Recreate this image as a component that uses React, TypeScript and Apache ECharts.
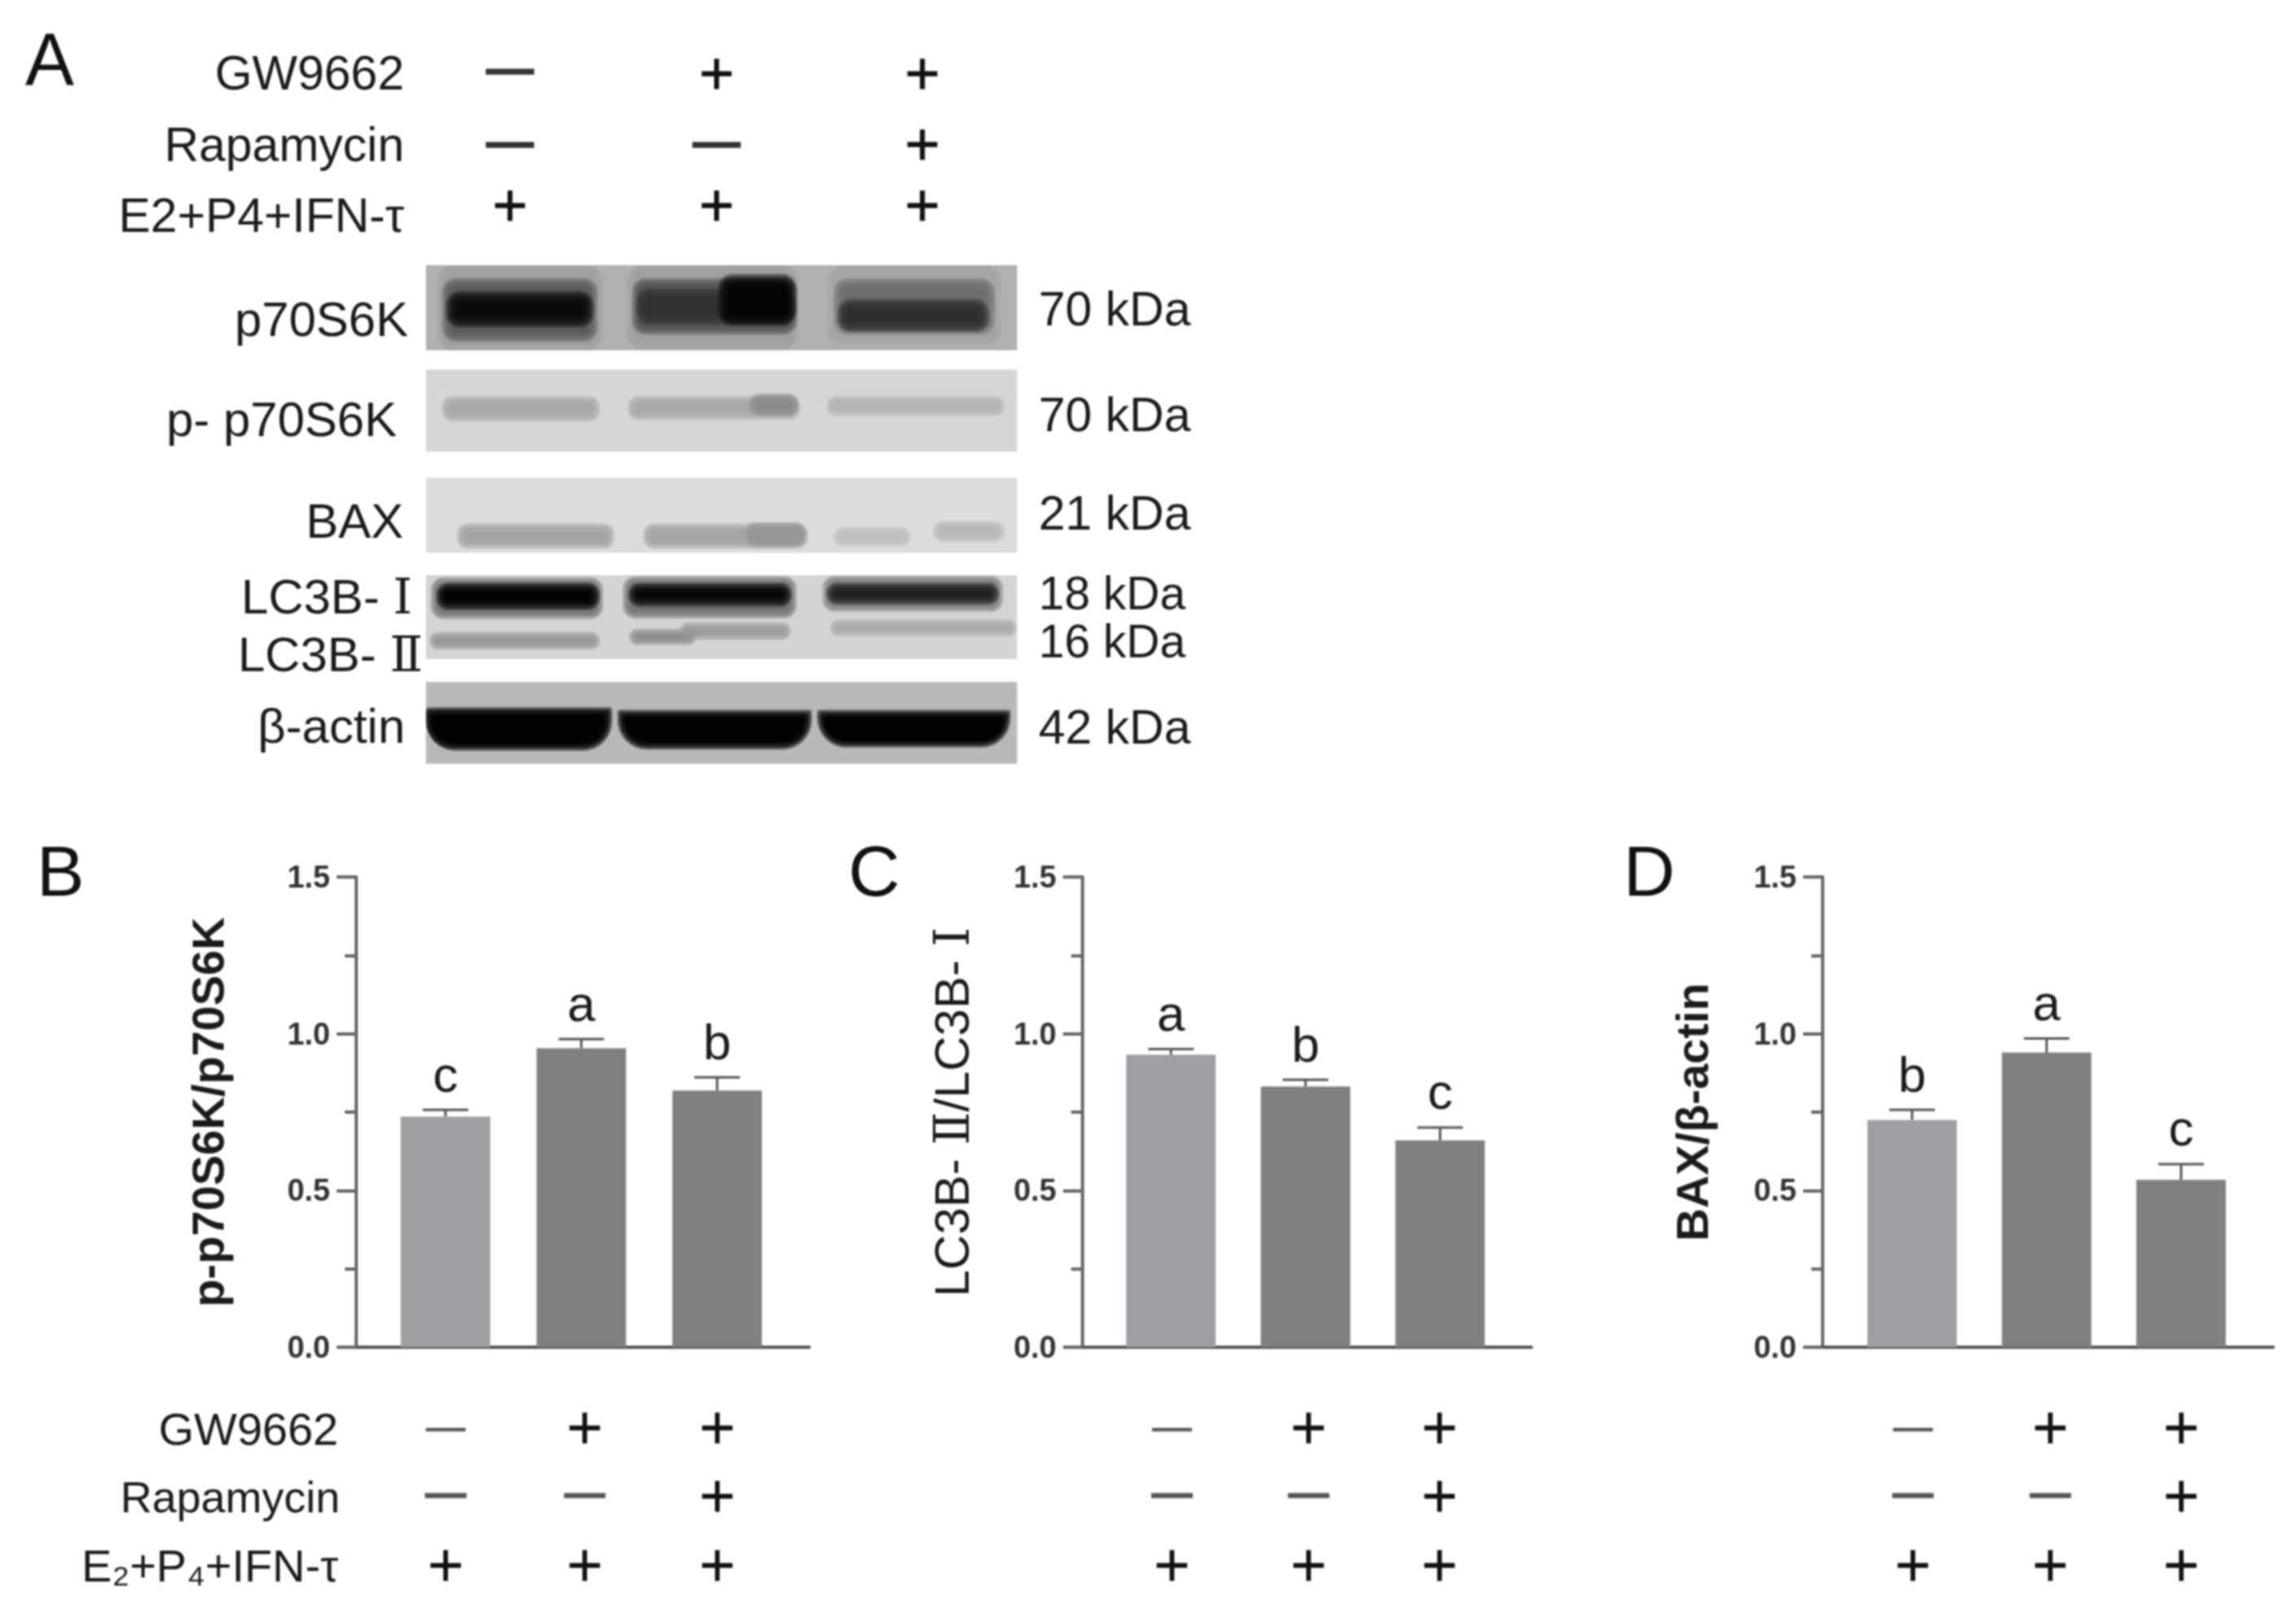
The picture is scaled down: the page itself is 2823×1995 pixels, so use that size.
import React, { useEffect, useRef } from "react";
import * as echarts from "echarts";

const FONT = "'Liberation Sans', Arial, 'DejaVu Sans', sans-serif";
const NUMERAL_FONT = "'Liberation Sans', 'DejaVu Serif', serif";

// ---- chart values ----
const groups = [1, 2, 3];
const pS6kMeans = [0.736, 0.954, 0.819];
const pS6kUpper = [0.757, 0.983, 0.861];
const pS6kLetters = ["c", "a", "b"];
const lc3bMeans = [0.933, 0.832, 0.66];
const lc3bUpper = [0.951, 0.853, 0.701];
const lc3bLetters = ["a", "b", "c"];
const baxMeans = [0.725, 0.94, 0.534];
const baxUpper = [0.757, 0.985, 0.584];
const baxLetters = ["b", "a", "c"];
const treatmentNames = ["GW9662", "Rapamycin", "E₂+P₄+IFN-τ"];
const gw9662Signs = ["-", "+", "+"];
const rapamycinSigns = ["-", "-", "+"];
const hormoneSigns = ["+", "+", "+"];
const blotLabels = ["p70S6K", "p- p70S6K", "BAX", "LC3B- Ⅰ", "LC3B- Ⅱ", "β-actin"];
const weightLabels = ["70 kDa", "70 kDa", "21 kDa", "18 kDa", "16 kDa", "42 kDa"];
const barColors = ["#9f9fa3", "#808080", "#808080"];

// ---- layout ----
const panels = [
  { letter: "B", letterX: 45, title: "p-p70S6K/p70S6K", titleBold: true, titleSize: 56, gap: 155, left: 438, right: 995, min: 0.343, max: 3.678, means: pS6kMeans, upper: pS6kUpper, letters: pS6kLetters, cols: [548, 719, 882] },
  { letter: "C", letterX: 1043, title: "LC3B- Ⅱ/LC3B- Ⅰ", titleBold: false, titleSize: 60, gap: 131, left: 1331, right: 1883, min: 0.343, max: 3.679, means: lc3bMeans, upper: lc3bUpper, letters: lc3bLetters, cols: [1441, 1609, 1770] },
  { letter: "D", letterX: 1996, title: "BAX/β-actin", titleBold: true, titleSize: 56, gap: 133, left: 2241, right: 2795, min: 0.335, max: 3.685, means: baxMeans, upper: baxUpper, letters: baxLetters, cols: [2352, 2521, 2682] },
];
const GRID_TOP = 1078;
const GRID_H = 578;
const tableRows = [gw9662Signs, rapamycinSigns, hormoneSigns];
const tableRowY = [1754, 1838, 1923];
const tableDashY = [1757, 1838, 1923];
const tableLabelY = [1756, 1840, 1924];
const tableLabelX = [416, 418, 416];
const tableLabelSize = [56, 54, 56];
const topRowY = [90, 177, 252];
const topDashY = [86, 176, 252];
const topLabelY = [90, 178, 265];
const topCols = [627, 881, 1134];

// Soft blot strips: [x0, x1, y0, y1, colour, softness] in the coordinates of a crop of the blot area.
const cropX = (x: number) => 520 + x / 2.119;
const cropY = (y: number) => 320 + y / 2.489;
const stripX0 = 8;
const stripX1 = 1548;
const blotStrips = [
  { y0: 15, y1: 275, bg: "#b0b0b0" },
  { y0: 335, y1: 585, bg: "#d6d6d6" },
  { y0: 665, y1: 895, bg: "#dcdcdc" },
  { y0: 963, y1: 1220, bg: "#d4d4d4" },
  { y0: 1290, y1: 1540, bg: "#b9b9b9" },
];
const blotBands: any[] = [
  [55, 450, 22, 262, "#a0a0a0", 9], [65, 440, 72, 232, "#5a5a5a", 8], [75, 430, 112, 188, "#0a0a0a", 8],
  [550, 960, 22, 258, "#a2a2a2", 9], [560, 960, 72, 210, "#4c4c4c", 8], [570, 955, 105, 178, "#303030", 8], [785, 958, 60, 182, "#060606", 8],
  [1070, 1490, 25, 245, "#a4a4a4", 9], [1085, 1475, 72, 210, "#6c6c6c", 8], [1095, 1460, 135, 203, "#2e2e2e", 8],
  [60, 450, 428, 480, "#a8a8a8", 6], [545, 972, 428, 476, "#aaaaaa", 6], [860, 968, 420, 464, "#8c8c8c", 6], [1062, 1505, 428, 464, "#b4b4b4", 6],
  [100, 488, 818, 870, "#a4a4a4", 6], [585, 992, 818, 870, "#a6a6a6", 6], [850, 988, 814, 864, "#979797", 6], [1080, 1260, 828, 864, "#c0c0c0", 6], [1340, 1505, 810, 850, "#bbbbbb", 6],
  [34, 456, 985, 1082, "#707070", 7], [48, 448, 1002, 1054, "#020202", 7],
  [534, 960, 982, 1080, "#707070", 7], [548, 948, 1002, 1044, "#040404", 7],
  [1054, 1498, 980, 1060, "#777777", 7], [1064, 1488, 1002, 1038, "#202020", 7],
  [28, 450, 1150, 1178, "#989898", 6], [548, 700, 1140, 1164, "#8c8c8c", 6], [680, 948, 1120, 1148, "#9a9a9a", 6], [1072, 1535, 1112, 1138, "#aaaaaa", 6],
];
const actinBands: any[] = [
  [12, 484, 1378, 1490], [516, 1004, 1386, 1486], [1036, 1522, 1386, 1480],
];
const leftLabelPos = [[502, 392], [488, 515], [496, 640], [507, 733], [520, 804], [498, 892]];
const weightY = [380, 510, 631, 729, 788, 894];
const weightSize = [59, 59, 59, 57, 57, 59];

function text(x: number, y: number, t: string, size: number, align = "right", extra: any = {}) {
  return {
    type: "text",
    x,
    y,
    z: 10,
    style: { text: t, fontSize: size, fontFamily: FONT, fill: "#1a1a1a", align, verticalAlign: "middle", ...extra },
  };
}

function plus(x: number, y: number, size: number, thick: number) {
  return text(x, y, "+", size, "center", { fill: "#111111", stroke: "#111111", lineWidth: thick });
}

function dash(x: number, y: number, size: number, thick: number, color: string) {
  return text(x, y - size * 0.07, "—", size, "center", { fill: color, stroke: color, lineWidth: thick });
}

function softRect(x0: number, x1: number, y0: number, y1: number, color: string, soft: number, bottomRound = 0) {
  const strip = blotStrips.find((s) => (y0 + y1) / 2 >= cropY(s.y0) && (y0 + y1) / 2 <= cropY(s.y1))!;
  const top = cropY(strip.y0);
  const bot = cropY(strip.y1);
  const left = cropX(stripX0);
  const right = cropX(stripX1);
  const out: any[] = [];
  const steps = 14;
  for (let k = 0; k < steps; k++) {
    const d = soft * (1 - (2 * k) / (steps - 1));
    const inset = Math.max(d, -Math.min((y1 - y0) / 2 - 1, soft));
    const ax = Math.max(x0 - d, left);
    const bx = Math.min(x1 + d, right);
    const ay = Math.max(y0 - inset, top);
    const by = Math.min(y1 + inset, bot);
    const h = by - ay;
    const r = bottomRound ? [4, 4, bottomRound + d, bottomRound + d] : Math.min(soft + d + 2, h / 2);
    out.push({
      type: "rect",
      z: 2,
      shape: { x: ax, y: ay, width: bx - ax, height: h, r },
      style: { fill: color, opacity: k === steps - 1 ? 0.7 : 0.2 },
    });
  }
  return out;
}

function buildGraphics() {
  const els: any[] = [];
  blotStrips.forEach((b) => {
    els.push({
      type: "rect",
      z: 1,
      shape: { x: cropX(stripX0), y: cropY(b.y0), width: cropX(stripX1) - cropX(stripX0), height: cropY(b.y1) - cropY(b.y0) },
      style: { fill: b.bg },
    });
  });
  blotBands.forEach((d) => {
    els.push(...softRect(cropX(d[0]), cropX(d[1]), cropY(d[2]), cropY(d[3]), d[4], d[5]));
  });
  actinBands.forEach((d) => {
    els.push(...softRect(cropX(d[0]), cropX(d[1]), cropY(d[2]), cropY(d[3]), "#000000", 5, 32));
  });
  blotLabels.forEach((l, i) => {
    els.push(text(leftLabelPos[i][0], leftLabelPos[i][1], l, 60, "right", { fontFamily: NUMERAL_FONT }));
    els.push(text(1277, weightY[i], weightLabels[i], weightSize[i], "left"));
  });
  els.push(text(497, topLabelY[0], "GW9662", 59));
  els.push(text(497, topLabelY[1], "Rapamycin", 59));
  els.push(text(497, topLabelY[2], "E2+P4+IFN-τ", 59));
  tableRows.forEach((row, r) => {
    row.forEach((s, c) =>
      els.push(s === "+" ? plus(topCols[c], topRowY[r], 74, 0.9) : dash(topCols[c], topDashY[r], 56, 3.5, "#333333"))
    );
  });
  els.push(text(31, 73, "A", 90, "left", { fill: "#111111" }));
  panels.forEach((p) => {
    els.push(text(p.letterX, 1070, p.letter, 88, "left", { fill: "#111111" }));
    tableRows.forEach((row, r) => {
      row.forEach((s, c) =>
        els.push(
          s === "+"
            ? plus(p.cols[c], tableRowY[r], 76, 0.5)
            : dash(p.cols[c], tableDashY[r], 48, r === 0 ? 1 : 3, "#555555")
        )
      );
    });
  });
  treatmentNames.forEach((n, r) => els.push(text(tableLabelX[r], tableLabelY[r], n, tableLabelSize[r])));
  return els;
}

function buildOption() {
  const grid: any[] = [];
  const xAxis: any[] = [];
  const yAxis: any[] = [];
  const series: any[] = [];
  panels.forEach((p, i) => {
    grid.push({ left: p.left, top: GRID_TOP, width: p.right - p.left, height: GRID_H, containLabel: false });
    xAxis.push({
      type: "value",
      gridIndex: i,
      min: p.min,
      max: p.max,
      axisLine: { show: true, onZero: false, lineStyle: { color: "#555555", width: 4 } },
      axisTick: { show: false },
      axisLabel: { show: false },
      splitLine: { show: false },
    });
    yAxis.push({
      type: "value",
      gridIndex: i,
      min: 0,
      max: 1.5,
      interval: 0.5,
      name: p.title,
      nameLocation: "middle",
      nameRotate: 90,
      nameGap: p.gap,
      nameTextStyle: { fontSize: p.titleSize, fontFamily: NUMERAL_FONT, color: "#1a1a1a", fontWeight: p.titleBold ? "bold" : "normal" },
      axisLine: { show: true, onZero: false, lineStyle: { color: "#666666", width: 4 } },
      axisTick: { show: true, length: 24, lineStyle: { color: "#666666", width: 4 } },
      minorTick: { show: true, splitNumber: 2, length: 14, lineStyle: { color: "#666666", width: 4 } },
      axisLabel: {
        margin: 32,
        fontSize: 38,
        fontWeight: "bold",
        fontFamily: FONT,
        color: "#333333",
        formatter: (v: number) => v.toFixed(1),
      },
      splitLine: { show: false },
      minorSplitLine: { show: false },
    });
    series.push({
      type: "bar",
      xAxisIndex: i,
      yAxisIndex: i,
      barWidth: 110,
      data: groups.map((g, k) => ({ value: [g, p.means[k]], itemStyle: { color: barColors[k] } })),
    });
    series.push({
      type: "custom",
      xAxisIndex: i,
      yAxisIndex: i,
      encode: { x: 0, y: [1, 2] },
      data: groups.map((g, k) => [g, p.means[k], p.upper[k]]),
      renderItem: (params: any, api: any) => {
        const x = api.value(0);
        const bottom = api.coord([x, api.value(1)]);
        const top = api.coord([x, api.value(2)]);
        const stroke = { stroke: "#555555", lineWidth: 3 };
        return {
          type: "group",
          children: [
            { type: "line", shape: { x1: top[0], y1: top[1], x2: bottom[0], y2: bottom[1] }, style: stroke },
            { type: "line", shape: { x1: top[0] - 28, y1: top[1], x2: top[0] + 28, y2: top[1] }, style: stroke },
            {
              type: "text",
              style: {
                x: top[0],
                y: top[1] - 13,
                text: p.letters[params.dataIndex],
                fontSize: 62,
                fontFamily: FONT,
                fill: "#1a1a1a",
                align: "center",
                verticalAlign: "bottom",
              },
            },
          ],
        };
      },
    });
  });
  return { animation: false, backgroundColor: "#ffffff", grid, xAxis, yAxis, series, graphic: { elements: buildGraphics() } };
}

export default function App() {
  const ref = useRef<HTMLDivElement>(null);
  useEffect(() => {
    if (!ref.current) return;
    const chart = echarts.init(ref.current, undefined, { renderer: "svg" });
    chart.setOption(buildOption() as any);
    return () => chart.dispose();
  }, []);
  return (
    <div
      ref={ref}
      style={{ position: "absolute", left: 0, top: 0, width: 2823, height: 1995, filter: "blur(1.2px)" }}
    />
  );
}
